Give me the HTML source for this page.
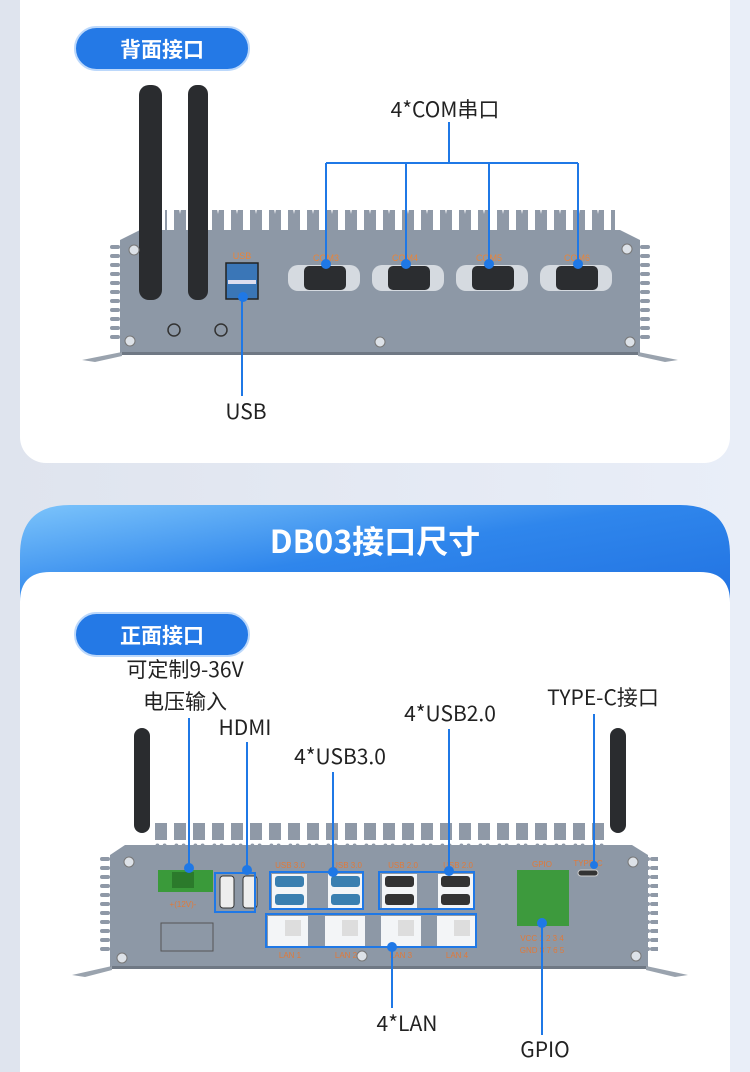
<!DOCTYPE html>
<html><head><meta charset="utf-8"><style>
body{margin:0;width:750px;height:1072px;overflow:hidden;background:linear-gradient(90deg,#dfe4ee,#e9eef8);font-family:"Liberation Sans","Noto Sans CJK SC",sans-serif}
</style></head><body>
<svg width="750" height="1072" viewBox="0 0 750 1072" xmlns="http://www.w3.org/2000/svg" style="position:absolute;left:0;top:0">
<defs>
<linearGradient id="hd" x1="0" y1="0" x2="1" y2="1"><stop offset="0" stop-color="#7cc4fb"/><stop offset="0.45" stop-color="#2f86ec"/><stop offset="1" stop-color="#1f6fe0"/></linearGradient>
<pattern id="fin" x="0" y="0" width="19" height="40" patternUnits="userSpaceOnUse">
<path d="M3 40 L3 8 Q3 2 7 4 L9 14 L11 4 Q15 2 15 8 L15 40 Z" fill="#8f99a7"/></pattern>
<pattern id="sfin" x="0" y="0" width="10" height="9" patternUnits="userSpaceOnUse">
<rect x="0" y="2" width="10" height="4" rx="2" fill="#8f99a7"/></pattern>
</defs>
<rect x="20" y="-40" width="710" height="503" rx="26" fill="#fff"/>
<rect x="75" y="27" width="174" height="43" rx="21.5" fill="#2479e6" stroke="#bcd8fb" stroke-width="2"/>
<text x="162" y="57" fill="#fff" font-size="21" font-weight="bold" text-anchor="middle" font-family="Noto Sans CJK SC,sans-serif">背面接口</text>

<rect x="165" y="210" width="450" height="32" fill="url(#fin)"/>
<rect x="110" y="240" width="12" height="100" fill="url(#sfin)"/>
<rect x="638" y="240" width="12" height="100" fill="url(#sfin)"/>
<path d="M120 240 L140 230 L620 230 L640 240 L640 352 L120 352 Z" fill="#8d98a6"/>
<rect x="120" y="352" width="520" height="3" fill="#6f7884"/>
<path d="M82 360 L122 352 L122 356 L95 362 Z" fill="#9aa3ae"/><path d="M678 360 L638 352 L638 356 L665 362 Z" fill="#9aa3ae"/>
<rect x="139" y="85" width="23" height="215" rx="10" fill="#2a2c2f"/>
<rect x="188" y="85" width="20" height="215" rx="9" fill="#2a2c2f"/>
<circle cx="174" cy="330" r="6" fill="none" stroke="#333" stroke-width="1.5"/><circle cx="221" cy="330" r="6" fill="none" stroke="#333" stroke-width="1.5"/>
<g fill="#dde2e8" stroke="#777" stroke-width="1"><circle cx="134" cy="250" r="5"/><circle cx="130" cy="341" r="5"/><circle cx="380" cy="342" r="5"/><circle cx="630" cy="342" r="5"/><circle cx="627" cy="249" r="5"/></g>
<rect x="226" y="263" width="32" height="36" fill="#3a76b7" stroke="#222" stroke-width="1.5"/><rect x="228" y="280" width="28" height="4" fill="#dde"/>
<g fill="#d5dae0"><rect x="288" y="265" width="72" height="26" rx="10"/><rect x="372" y="265" width="72" height="26" rx="10"/><rect x="456" y="265" width="72" height="26" rx="10"/><rect x="540" y="265" width="72" height="26" rx="10"/></g>
<g fill="#2b2d30"><rect x="304" y="266" width="42" height="24" rx="5"/><rect x="388" y="266" width="42" height="24" rx="5"/><rect x="472" y="266" width="42" height="24" rx="5"/><rect x="556" y="266" width="42" height="24" rx="5"/></g>
<g fill="#e8843a" font-size="9" text-anchor="middle"><text x="242" y="259">USB</text><text x="326" y="261">COM3</text><text x="405" y="261">COM4</text><text x="489" y="261">COM5</text><text x="577" y="261">COM6</text></g>
<g stroke="#1f78e6" stroke-width="2" fill="none"><path d="M449 122 V163 M326 163 H578 M326 163 V264 M406 163 V264 M489 163 V264 M578 163 V264 M242 298 V396"/></g>
<g fill="#1f78e6"><circle cx="326" cy="264" r="5"/><circle cx="406" cy="264" r="5"/><circle cx="489" cy="264" r="5"/><circle cx="578" cy="264" r="5"/><circle cx="243" cy="297" r="5"/></g>
<g font-size="21" text-anchor="middle" fill="#222" font-family="Noto Sans CJK SC,sans-serif">
<text x="445" y="117">4*COM串口</text>
<text x="246" y="419">USB</text></g>

<path d="M20 555 Q20 505 70 505 L680 505 Q730 505 730 555 L730 620 L20 620 Z" fill="url(#hd)"/>
<text x="375" y="553" font-size="32" font-weight="bold" text-anchor="middle" fill="#fff" font-family="Noto Sans CJK SC,sans-serif">DB03接口尺寸</text>
<path d="M20 1072 L20 602 Q20 572 50 572 L700 572 Q730 572 730 602 L730 1072 Z" fill="#fff"/>
<rect x="75" y="613" width="174" height="43" rx="21.5" fill="#2479e6" stroke="#bcd8fb" stroke-width="2"/>
<text x="162" y="643" fill="#fff" font-size="21" font-weight="bold" text-anchor="middle" font-family="Noto Sans CJK SC,sans-serif">正面接口</text>

<rect x="134" y="728" width="16" height="105" rx="8" fill="#2a2c2f"/>
<rect x="610" y="728" width="16" height="105" rx="8" fill="#2a2c2f"/>
<rect x="150" y="823" width="455" height="30" fill="url(#fin)"/>
<rect x="100" y="855" width="12" height="100" fill="url(#sfin)"/>
<rect x="646" y="855" width="12" height="100" fill="url(#sfin)"/>
<path d="M110 855 L125 845 L632 845 L648 855 L648 966 L110 966 Z" fill="#8d98a6"/>
<rect x="110" y="966" width="538" height="3" fill="#6f7884"/>
<path d="M72 975 L112 966 L112 970 L85 977 Z" fill="#9aa3ae"/><path d="M688 975 L646 966 L646 970 L675 977 Z" fill="#9aa3ae"/>
<g fill="#dde2e8" stroke="#777" stroke-width="1"><circle cx="129" cy="862" r="5"/><circle cx="122" cy="958" r="5"/><circle cx="362" cy="956" r="5"/><circle cx="633" cy="862" r="5"/><circle cx="636" cy="956" r="5"/></g>
<rect x="158" y="870" width="55" height="22" fill="#3a9a3a"/><rect x="172" y="872" width="22" height="16" fill="#2b7a2b"/>
<rect x="161" y="923" width="52" height="28" fill="none" stroke="#555" stroke-width="1"/>
<rect x="220" y="876" width="14" height="32" rx="3" fill="#eee" stroke="#333"/><rect x="243" y="876" width="14" height="32" rx="3" fill="#eee" stroke="#333"/>
<g fill="#f3f5f7"><rect x="272" y="874" width="35" height="34"/><rect x="328" y="874" width="35" height="34"/><rect x="382" y="874" width="35" height="34"/><rect x="438" y="874" width="35" height="34"/>
<rect x="268" y="916" width="40" height="30"/><rect x="325" y="916" width="40" height="30"/><rect x="381" y="916" width="40" height="30"/><rect x="437" y="916" width="40" height="30"/></g>
<g fill="#3a7fb0"><rect x="275" y="876" width="29" height="11" rx="3"/><rect x="275" y="894" width="29" height="11" rx="3"/><rect x="331" y="876" width="29" height="11" rx="3"/><rect x="331" y="894" width="29" height="11" rx="3"/></g>
<g fill="#333"><rect x="385" y="876" width="29" height="11" rx="3"/><rect x="385" y="894" width="29" height="11" rx="3"/><rect x="441" y="876" width="29" height="11" rx="3"/><rect x="441" y="894" width="29" height="11" rx="3"/></g>
<g fill="#ddd"><rect x="285" y="920" width="16" height="16"/><rect x="342" y="920" width="16" height="16"/><rect x="398" y="920" width="16" height="16"/><rect x="454" y="920" width="16" height="16"/></g>
<rect x="517" y="870" width="52" height="56" fill="#3d9a3d"/>
<rect x="578" y="870" width="20" height="6" rx="3" fill="#333" stroke="#ccc"/>
<g fill="#e07a3a" font-size="8" text-anchor="middle"><text x="290" y="868">USB 3.0</text><text x="347" y="868">USB 3.0</text><text x="403" y="868">USB 2.0</text><text x="458" y="868">USB 2.0</text><text x="542" y="867">GPIO</text><text x="588" y="866">TYPE-C</text><text x="183" y="907">+(12V)-</text>
<text x="290" y="958">LAN 1</text><text x="346" y="958">LAN 2</text><text x="401" y="958">LAN 3</text><text x="457" y="958">LAN 4</text><text x="542" y="941">VCC 1 2 3 4</text><text x="542" y="953">GND 8 7 6 5</text></g>
<g stroke="#1f78e6" stroke-width="2" fill="none">
<rect x="215" y="873" width="40" height="39"/><rect x="270" y="872" width="93" height="37"/><rect x="379" y="872" width="95" height="37"/><rect x="266" y="914" width="210" height="33"/>
<path d="M189 718 V868 M247 742 V870 M333 772 V872 M449 729 V871 M594 714 V866 M392 946 V1008 M542 923 V1035"/></g>
<g fill="#1f78e6"><circle cx="189" cy="868" r="5"/><circle cx="247" cy="870" r="5"/><circle cx="333" cy="872" r="5"/><circle cx="449" cy="871" r="5"/><circle cx="594" cy="865" r="4"/><circle cx="392" cy="947" r="5"/><circle cx="542" cy="923" r="5"/></g>
<g font-size="21" text-anchor="middle" fill="#222" font-family="Noto Sans CJK SC,sans-serif">
<text x="185" y="677">可定制9-36V</text><text x="185" y="709">电压输入</text><text x="245" y="735">HDMI</text><text x="340" y="764">4*USB3.0</text><text x="450" y="721">4*USB2.0</text><text x="603" y="705">TYPE-C接口</text><text x="407" y="1031">4*LAN</text><text x="545" y="1057">GPIO</text></g>
</svg>
</body></html>
